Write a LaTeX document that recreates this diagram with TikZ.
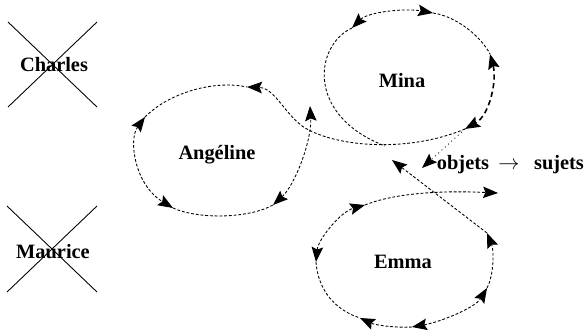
\documentclass[tikz,border=0pt]{standalone}
\usepackage{fontspec}
\setmainfont{Liberation Serif}
\usetikzlibrary{arrows.meta}
\tikzset{
 orbit/.style={dash pattern=on 1.6pt off 1.1pt, line width=0.5pt},
 orbit bold/.style={dash pattern=on 3pt off 2pt, line width=0.9pt},
 who/.style={font=\fontsize{11.6}{13}\selectfont\bfseries, anchor=base, inner sep=0pt},
 crossout/.style={line width=0.5pt},
 >={Stealth[length=3mm,width=2.3mm,inset=0.5mm]}
}

\begin{document}
\begin{tikzpicture}[x=0.02cm,y=-0.02cm]
\useasboundingbox (0,0) rectangle (585,331);

\node[who] (charles) at (54,72) {Charles};
\node[who] (maurice) at (53,258) {Maurice};
\node[who] (angeline) at (217,159) {Angéline};
\node[who] (mina) at (402,88) {Mina};
\node[who] (emma) at (403,268) {Emma};
\node[who] (objets) at (463,170) {objets};
\node[who] (vers) at (509,170) {$\rightarrow$};
\node[who] (sujets) at (559,170) {sujets};

\draw[crossout] (8,22) -- (97,107) (97,22) -- (8,107);
\draw[crossout] (7,206) -- (97,292) (97,206) -- (7,292);

\coordinate (aT) at (247,87);
\coordinate (aL) at (145,117);
\coordinate (aB) at (173,208);
\coordinate (aR) at (273,205);
\coordinate (aU) at (310,106);
\coordinate (mL) at (352,28);
\coordinate (mT) at (433,13);
\coordinate (mR) at (490,54);
\coordinate (mB) at (465,129);
\coordinate (mM) at (385,146);
\coordinate (eT) at (365,205);
\coordinate (eE) at (498,193);
\coordinate (eL) at (316,262);
\coordinate (eS) at (360,318);
\coordinate (eB) at (412,327);
\coordinate (eC) at (487,288);
\coordinate (eR) at (487,233);
\coordinate (eX) at (392,160);
\coordinate (oA) at (422,168);

\draw[orbit] (aL) .. controls (170,92) and (215,80) .. (aT);
\draw[orbit,<->] (aL) .. controls (128,140) and (135,185) .. (aB);
\draw[orbit] (aB) .. controls (200,220) and (250,218) .. (aR);
\draw[orbit,<->] (aR) .. controls (295,185) and (312,140) .. (aU);
\draw[orbit,->] (mB) .. controls (410,152) and (340,148) .. (305,128)
  .. controls (285,115) and (275,88) .. (aT);

\draw[orbit] (mL) .. controls (315,45) and (305,115) .. (mM);
\draw[orbit,<->] (mL) .. controls (368,12) and (405,8) .. (mT);
\draw[orbit] (mT) .. controls (455,16) and (480,35) .. (mR);
\draw[orbit bold,<->] (mR) .. controls (497,80) and (490,115) .. (mB);
\draw[dotted,line width=0.5pt,->] (mB) -- (oA);

\draw[orbit,<->] (eL) .. controls (318,240) and (340,212) .. (eT);
\draw[orbit,->] (eT) .. controls (390,195) and (430,190) .. (eE);
\draw[orbit] (eL) .. controls (318,290) and (335,310) .. (eS);
\draw[orbit,->] (eB) .. controls (395,328) and (375,325) .. (eS);
\draw[orbit,<->] (eB) .. controls (440,322) and (475,308) .. (eC);
\draw[orbit,->] (eC) .. controls (494,275) and (494,250) .. (eR);
\draw[orbit,->] (eR) -- (eX);
\end{tikzpicture}
\end{document}
